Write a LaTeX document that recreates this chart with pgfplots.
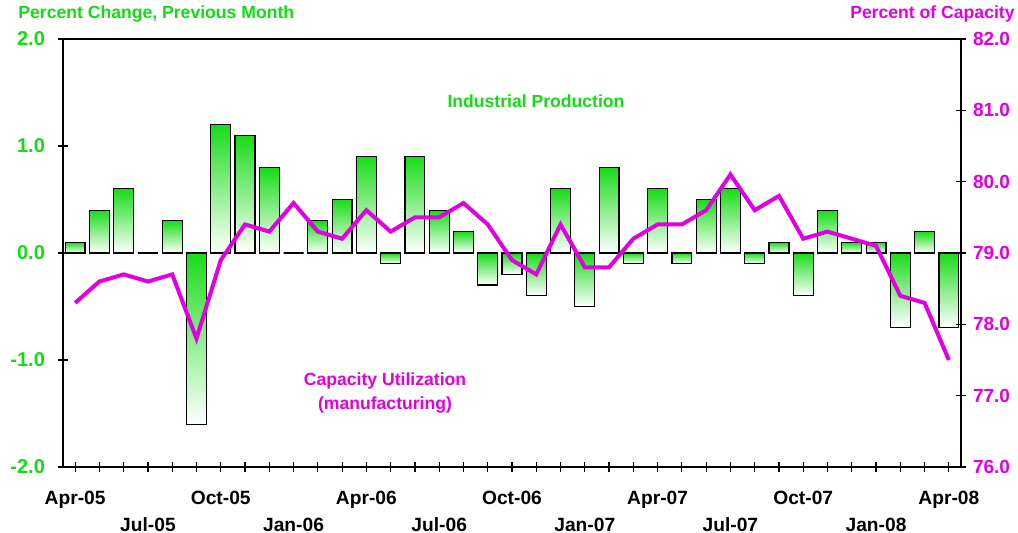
\documentclass[border=0pt]{standalone}
\usepackage{fontspec}
\setmainfont{Liberation Sans}
\usepackage{pgfplots}
\usepackage{pgfplotstable}
\pgfplotsset{compat=1.18}
\definecolor{ipgreen}{RGB}{20,220,20}
\definecolor{bargreen}{RGB}{25,220,25}
\definecolor{cumag}{RGB}{225,0,225}

% month index, industrial production (% chg), capacity utilization (%)
\pgfplotstableread{
idx ip cu
0 0.1 78.3
1 0.4 78.6
2 0.6 78.7
3 0.0 78.6
4 0.3 78.7
5 -1.6 77.8
6 1.2 78.9
7 1.1 79.4
8 0.8 79.3
9 0.0 79.7
10 0.3 79.3
11 0.5 79.2
12 0.9 79.6
13 -0.1 79.3
14 0.9 79.5
15 0.4 79.5
16 0.2 79.7
17 -0.3 79.4
18 -0.2 78.9
19 -0.4 78.7
20 0.6 79.4
21 -0.5 78.8
22 0.8 78.8
23 -0.1 79.2
24 0.6 79.4
25 -0.1 79.4
26 0.5 79.6
27 0.6 80.1
28 -0.1 79.6
29 0.1 79.8
30 -0.4 79.2
31 0.4 79.3
32 0.1 79.2
33 0.1 79.1
34 -0.7 78.4
35 0.2 78.3
36 -0.7 77.5
}\datatable

\begin{document}
\begin{tikzpicture}
\useasboundingbox (-31.5pt,-33pt) rectangle (477.5pt,233.5pt);
\pgfplotsset{
  common/.style={
    scale only axis, width=449pt, height=214pt,
    xmin=-0.5, xmax=36.5,
    tick align=center,
    major tick length=5pt, minor tick length=5pt,
    tick style={black, line width=0.6pt},
    /pgf/number format/assume math mode=true,
    /pgf/number format/fixed, /pgf/number format/fixed zerofill,
    /pgf/number format/precision=1,
  }
}
\begin{axis}[
  common,
  ymin=-2, ymax=2, ytick={-2,-1,...,2},
  ytick pos=left, xtick pos=bottom,
  axis line style={black, line width=0.9pt},
  yticklabel style={ipgreen, font=\fontsize{10}{12}\selectfont\bfseries, xshift=-3pt},
  xtick={0,6,...,36},
  xticklabels={Apr-05,Oct-05,Apr-06,Oct-06,Apr-07,Oct-07,Apr-08},
  extra x ticks={3,9,...,33},
  extra x tick labels={Jul-05,Jan-06,Jul-06,Jan-07,Jul-07,Jan-08},
  extra x tick style={xticklabel style={yshift=-13.5pt}},
  minor xtick={0,...,36},
  xticklabel style={font=\fontsize{9.6}{11}\selectfont\bfseries, yshift=-6pt},
]
% one plot per month so that every bar gets its own gradient
\pgfplotsinvokeforeach{0,...,36}{
  \addplot[ybar, bar width=0.82, draw=black, line width=0.6pt,
    top color=bargreen, bottom color=white,
    x filter/.expression={abs(x-#1)<0.1 ? x : nan}]
    table[x=idx,y=ip]{\datatable};
}
\end{axis}
\begin{axis}[
  common,
  ymin=76, ymax=82, ytick={76,77,...,82},
  hide x axis,
  axis y line*=right,
  y axis line style={-, black, line width=0.9pt},
  yticklabel style={cumag, font=\fontsize{9.5}{11}\selectfont\bfseries},
]
\addplot[cumag, line width=2pt] table[x=idx,y=cu]{\datatable};
\end{axis}
\node[anchor=west, ipgreen, font=\fontsize{8.8}{10.5}\selectfont\bfseries, inner sep=0pt] at (-22.5pt,226.5pt) {Percent Change, Previous Month};
\node[anchor=east, cumag, font=\fontsize{8.8}{10.5}\selectfont\bfseries, inner sep=0pt] at (476pt,226.5pt) {Percent of Capacity};
\node[ipgreen, font=\fontsize{8.8}{10.5}\selectfont\bfseries, inner sep=0pt] at (236.5pt,183pt) {Industrial Production};
\node[cumag, font=\fontsize{8.8}{12}\selectfont\bfseries, align=center, inner sep=0pt] at (161pt,37pt) {Capacity Utilization\\(manufacturing)};
\end{tikzpicture}
\end{document}
